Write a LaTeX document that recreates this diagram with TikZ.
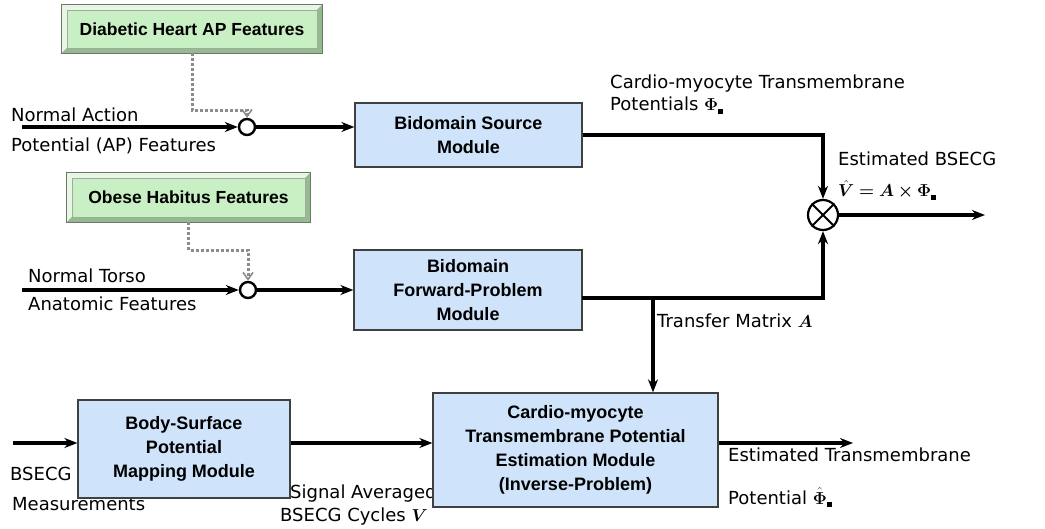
\documentclass[tikz,border=0pt]{standalone}
\usepackage{amsmath}
\usepackage[no-math]{fontspec}
\setmainfont{Liberation Sans}
\newfontfamily\lblfont{DejaVu Sans}
\usetikzlibrary{arrows.meta}
\definecolor{modfill}{HTML}{CFE4FA}
\definecolor{grface}{HTML}{C9F0C4}
\definecolor{grlight}{HTML}{E6F8E2}
\definecolor{grdark}{HTML}{93BC8C}
\newcommand\sqsub{\rule{5pt}{4.5pt}}
\newcommand\bevelbox[1]{%
  \fill[grlight] (#1.north west) -- (#1.north east) -- ([shift={(-5pt,-5pt)}]#1.north east) -- ([shift={(5pt,-5pt)}]#1.north west) -- ([shift={(5pt,5pt)}]#1.south west) -- (#1.south west) -- cycle;
  \fill[grdark] (#1.south east) -- (#1.north east) -- ([shift={(-5pt,-5pt)}]#1.north east) -- ([shift={(-5pt,5pt)}]#1.south east) -- ([shift={(5pt,5pt)}]#1.south west) -- (#1.south west) -- cycle;
  \draw[black!55,line width=0.8pt] (#1.north west) rectangle (#1.south east);
  \draw[black!35,line width=0.5pt] ([shift={(5pt,-5pt)}]#1.north west) rectangle ([shift={(-5pt,5pt)}]#1.south east);
}
\begin{document}
\begin{tikzpicture}[x=1pt,y=-1pt,
  module/.style={draw=black!75, fill=modfill, line width=1.2pt, align=center, inner sep=0pt,
    font=\bfseries\fontsize{18}{24}\selectfont},
  greenbox/.style={fill=grface, inner sep=0pt},
  greentext/.style={font=\bfseries\fontsize{17.5}{20}\selectfont},
  lbl/.style={anchor=base west, inner sep=0pt, font=\lblfont\fontsize{18}{20}\selectfont},
  junc/.style={circle, draw, line width=2.4pt, fill=white, minimum size=16pt, inner sep=0pt},
  flow/.style={line width=3.2pt, -{Stealth[length=13pt,width=10pt]}},
  dot/.style={line width=3pt, dotted, black!45, -{Straight Barb[length=7pt,width=10pt,line width=1.6pt]}}
]
\useasboundingbox (0,0) rectangle (1045,529);
\fill[white] (0,0) rectangle (1045,529);

% green feature boxes
\node[greenbox, minimum width=260pt, minimum height=48pt] (g1) at (192,29) {};
\bevelbox{g1}
\node[greentext] (g1t) at (g1.center) {Diabetic Heart AP Features};
\node[greenbox, minimum width=243pt, minimum height=49pt] (g2) at (188.5,197.5) {};
\bevelbox{g2}
\node[greentext] (g2t) at (g2.center) {Obese Habitus Features};

% labels
\node[lbl] (t1) at (11,122) {Normal Action};
\node[lbl] (t2) at (11,152) {Potential (AP) Features};
\node[lbl] (t3) at (28,283) {Normal Torso};
\node[lbl] (t4) at (28,311) {Anatomic Features};
\node[lbl] (t5) at (610,89) {Cardio-myocyte Transmembrane};
\node[lbl] (t6) at (610,111) {Potentials $\boldsymbol{\Phi}_{\sqsub}$};
\node[lbl] (t7) at (838,166) {Estimated BSECG};
\node[lbl] (t8) at (838,197) {$\hat{\boldsymbol{V}}\boldsymbol{=}\boldsymbol{A}\boldsymbol{\times}\boldsymbol{\Phi}_{\sqsub}$};
\node[lbl] (t9) at (657,328) {Transfer Matrix $\boldsymbol{A}$};
\node[lbl] (t10) at (10,480) {BSECG};
\node[lbl] (t11) at (12,510) {Measurements};
\node[lbl] (t12) at (290,498) {Signal Averaged};
\node[lbl] (t13) at (280,521) {BSECG Cycles $\boldsymbol{V}$};
\node[lbl] (t14) at (728,461) {Estimated Transmembrane};
\node[lbl] (t15) at (728,504) {Potential $\hat{\boldsymbol{\Phi}}_{\sqsub}$};

% modules
\node[module, minimum width=227pt, minimum height=64pt] (src) at (468.5,135) {Bidomain Source\\Module};
\node[module, minimum width=228pt, minimum height=80pt] (fwd) at (468,290) {Bidomain\\Forward-Problem\\Module};
\node[module, minimum width=212pt, minimum height=98pt] (body) at (184,449) {Body-Surface\\Potential\\Mapping Module};
\node[module, minimum width=285pt, minimum height=114pt] (inv) at (575.5,450) {Cardio-myocyte\\Transmembrane Potential\\Estimation Module\\(Inverse-Problem)};

% junctions
\node[junc] (c1) at (247,127) {};
\node[junc] (c2) at (248,290) {};
\node[circle, draw, line width=2.2pt, fill=white, minimum size=30pt, inner sep=0pt] (mul) at (823,215) {};
\draw[line width=1.8pt] (mul.north west) -- (mul.south east) (mul.north east) -- (mul.south west);

% coordinates
\coordinate (in1) at (22,127);
\coordinate (in2) at (22,290);
\coordinate (in3) at (13,443);
\coordinate (out1) at (985,215);
\coordinate (out3) at (853,443);
\coordinate (fo) at (582,298);
\coordinate (br) at (653,298);

% connectors
\draw[dot] (g1.south) -- ++(0,57) -| (c1.north);
\draw[dot] (g2.south) -- ++(0,28) -| (c2.north);
\draw[flow] (in1) -- (c1.west);
\draw[flow] (c1.east) -- (src.west |- c1);
\draw[flow] (in2) -- (c2.west);
\draw[flow] (c2.east) -- (fwd.west |- c2);
\draw[flow] (src.east) -| (mul.north);
\draw[flow] (fo) -| (mul.south);
\draw[flow] (br) -- (br |- inv.north);
\draw[flow] (mul.east) -- (out1);
\draw[flow] (in3) -- (in3 -| body.west);
\draw[flow] (body.east |- in3) -- (inv.west |- in3);
\draw[flow] (inv.east |- in3) -- (out3);
\end{tikzpicture}
\end{document}
